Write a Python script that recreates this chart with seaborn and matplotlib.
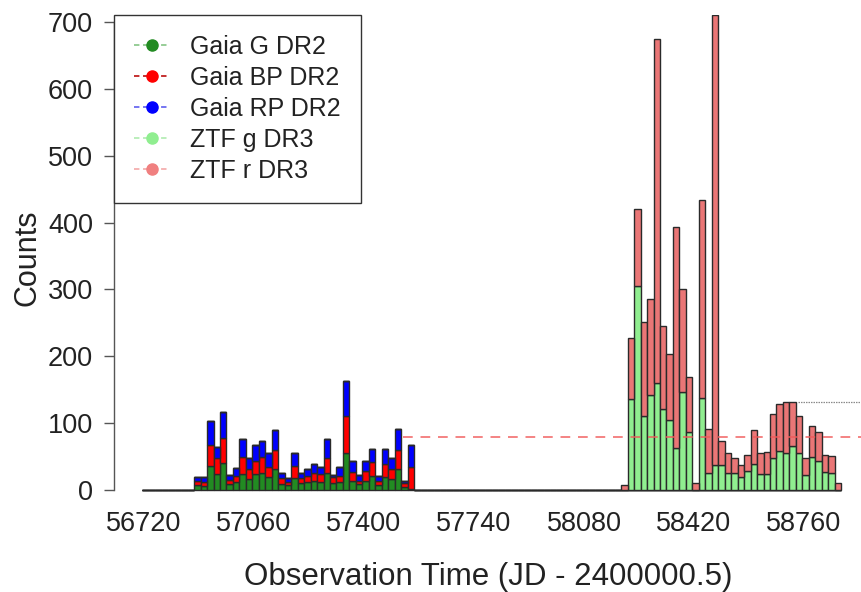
import numpy as np
import pandas as pd
import matplotlib
matplotlib.use("Agg")
import matplotlib.pyplot as plt
from matplotlib.lines import Line2D
import seaborn as sns

# ---------------- data ----------------
bin_width = 20
hist_start = 56715
hist_stop = 58875

gaia_start = 56875
gaia_G = [7, 6, 36, 24, 41, 9, 12, 24, 16, 24, 26, 20, 31, 9, 7, 18, 10,
          12, 13, 12, 25, 11, 12, 56, 14, 9, 14, 21, 8, 19, 16, 31, 5, 1]
gaia_BP = [6, 6, 31, 24, 37, 6, 9, 25, 15, 20, 23, 15, 29, 9, 5, 18, 8,
           9, 12, 12, 23, 9, 9, 54, 13, 5, 14, 21, 6, 20, 15, 29, 5, 33]
gaia_RP = [7, 8, 36, 17, 38, 7, 12, 27, 17, 23, 24, 20, 30, 7, 6, 20, 7,
           10, 14, 11, 28, 3, 14, 53, 17, 8, 16, 19, 7, 22, 17, 31, 3, 33]

ztf_start = 58195
ztf_g = [0, 136, 305, 110, 142, 160, 121, 104, 63, 146, 87, 0, 137, 26, 37,
         37, 26, 26, 19, 28, 39, 24, 24, 48, 59, 56, 66, 56, 22, 49, 44, 27, 25, 0]
ztf_r = [8, 92, 116, 142, 143, 515, 124, 99, 330, 154, 82, 10, 297, 65, 673,
         36, 30, 22, 19, 24, 51, 31, 33, 65, 69, 75, 66, 54, 26, 47, 42, 25, 26, 10]

bands = ["Gaia G DR2", "Gaia BP DR2", "Gaia RP DR2", "ZTF g DR3", "ZTF r DR3"]
bar_colors = ["#228B22", "#FF0000", "#0000FF", "#90EE90", "#EA7676"]
legend_line_colors = ["#8FC98F", "#C02020", "#6A6AF0", "#B5EDB5", "#F4AFAF"]
legend_marker_colors = ["#228B22", "#FF0000", "#0000FF", "#90EE90", "#F08080"]

ref_r_level = 79
ref_r_start = 57521
grey_level = 131.5
grey_start = 58740

y_ticks = [0, 100, 200, 300, 400, 500, 600, 700]
x_ticks = [56720, 57060, 57400, 57740, 58080, 58420, 58760]

# ---------------- build long table ----------------
rows = []
def add(start, values, band):
    for i, v in enumerate(values):
        rows.append({"time": start + bin_width * (i + 0.5), "counts": v, "band": band})
add(gaia_start, gaia_G, bands[0])
add(gaia_start, gaia_BP, bands[1])
add(gaia_start, gaia_RP, bands[2])
add(ztf_start, ztf_g, bands[3])
add(ztf_start, ztf_r, bands[4])
df = pd.DataFrame(rows)

# ---------------- plot ----------------
sns.set_theme(style="white")
plt.rcParams["font.family"] = ["Liberation Sans", "DejaVu Sans"]

fig = plt.figure(figsize=(8.62, 5.92), dpi=100)
W, H = 862, 592
ax = fig.add_axes([114 / W, 92 / H, 748 / W, 485 / H])

palette = dict(zip(bands, bar_colors))
sns.histplot(data=df, x="time", weights="counts", hue="band",
             hue_order=bands[::-1], multiple="stack",
             binwidth=bin_width, binrange=(hist_start, hist_stop),
             palette=palette, alpha=1, edgecolor="#2A2A2A", linewidth=1.0,
             legend=False, ax=ax)

x_left, x_right = 56627.3, 58939.3
ax.set_xlim(x_left, x_right)
ax.set_ylim(-14.96, 710.45)

ax.hlines(ref_r_level, ref_r_start, x_right, colors="#F05A5A", linewidth=1.4,
          linestyles=(0, (5, 4)), alpha=0.75, zorder=5)
ax.hlines(grey_level, grey_start, x_right, colors="#8A8A8A", linewidth=0.9,
          linestyles=(0, (1.2, 0.8)), zorder=5)

for s in ["top", "right", "bottom"]:
    ax.spines[s].set_visible(False)
ax.spines["left"].set_bounds(0, 700)
ax.spines["left"].set_color("#555555")
ax.spines["left"].set_linewidth(1.0)

ax.set_yticks(y_ticks)
ax.set_yticklabels([str(v) for v in y_ticks])
ax.set_xticks(x_ticks)
ax.set_xticklabels([str(v) for v in x_ticks])
ax.tick_params(axis="y", direction="out", length=7.5, width=1, color="#555555",
               pad=7.5, labelsize=19.5, labelcolor="#222222", left=True)
ax.tick_params(axis="x", length=0, pad=8, labelsize=19.5, labelcolor="#222222")
ax.set_ylabel("Counts", fontsize=22, color="#222222", labelpad=4)
ax.set_xlabel("Observation Time (JD - 2400000.5)", fontsize=22.5, color="#222222", labelpad=18)
ax.grid(False)

handles = [Line2D([0], [0], color=lc, linestyle=(0, (3, 2)), linewidth=1.3,
                  marker="o", markersize=8, markerfacecolor=mc, markeredgecolor=mc)
           for lc, mc in zip(legend_line_colors, legend_marker_colors)]
leg = ax.legend(handles, bands, loc="upper left", bbox_to_anchor=(0, 1),
                borderaxespad=0, frameon=True, fancybox=False, fontsize=18,
                handlelength=1.4, handletextpad=0.84, borderpad=0.8,
                labelspacing=0.28, numpoints=1)
leg.get_frame().set_edgecolor("#333333")
leg.get_frame().set_linewidth(1.0)
leg.get_frame().set_alpha(1)
for t in leg.get_texts():
    t.set_color("#222222")

fig.savefig("out.png", dpi=100)
